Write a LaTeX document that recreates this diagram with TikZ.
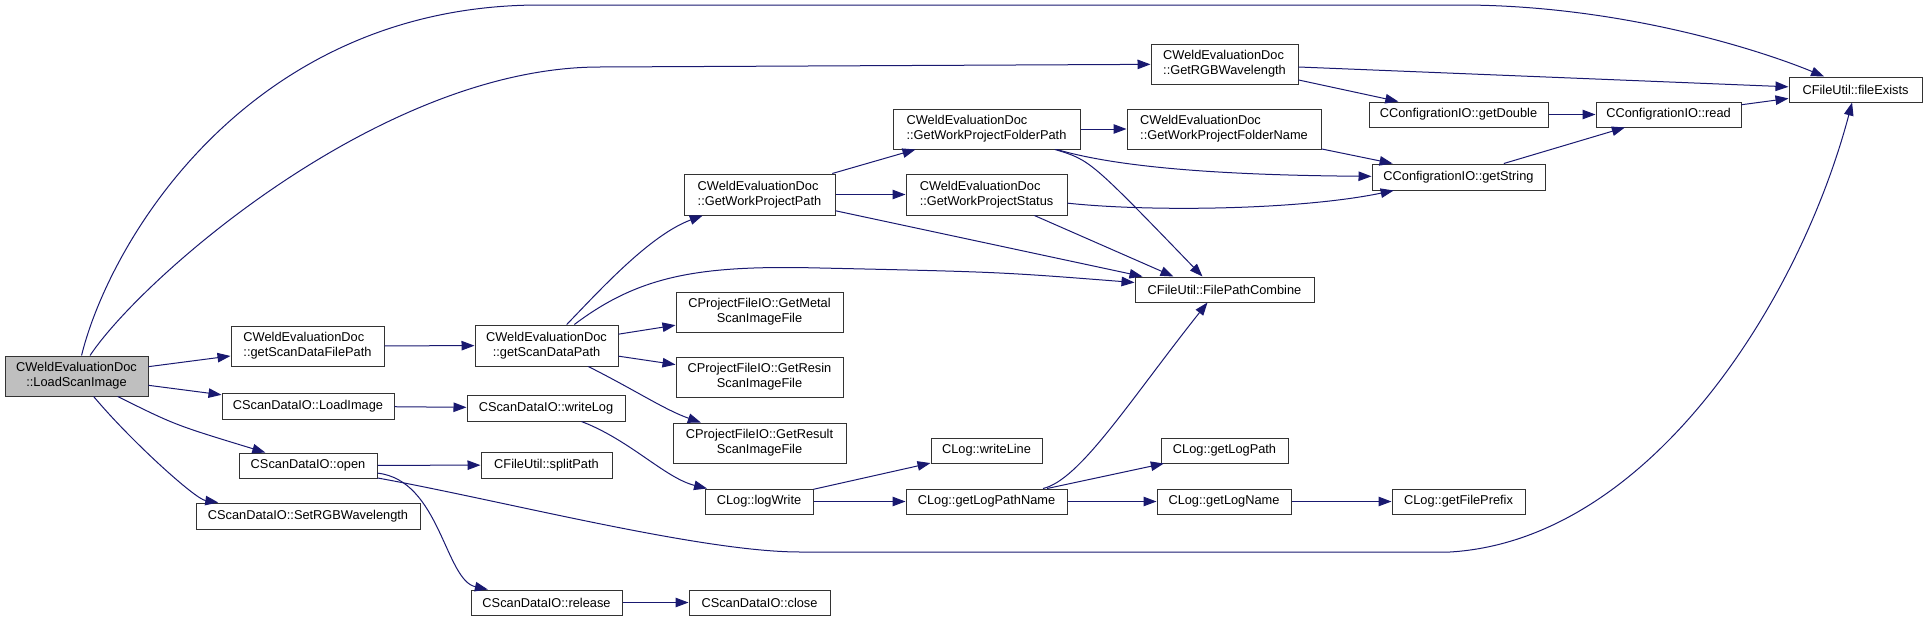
\documentclass[tikz,border=0pt]{standalone}
\usepackage{fontspec}
\setmainfont{Liberation Sans}
\usetikzlibrary{arrows.meta}
\definecolor{edgeblue}{HTML}{191970}
\definecolor{rootgray}{HTML}{BFBFBF}
\tikzset{
  fn/.style={draw=black!80, line width=1pt, fill=white, inner sep=2pt, align=center,
    font=\fontsize{12.8pt}{15pt}\selectfont},
  box/.style 2 args={fn, minimum width=#1pt, minimum height=#2pt},
  call/.style={edgeblue, line width=1pt, -{Triangle[length=13pt, width=9.5pt]}}
}

\begin{document}
\begin{tikzpicture}[x=1pt, y=-1pt]
  \useasboundingbox (0,0) rectangle (1927,621);

  % functions
  \node[box={143}{40}, fill=rootgray] (root) at (76.5,376) {CWeldEvaluationDoc\\::LoadScanImage};
  \node[box={153}{40}, align=left] (gsdfp) at (307.5,346) {CWeldEvaluationDoc\\::getScanDataFilePath};
  \node[box={172}{26}] (loadimg) at (308,406) {CScanDataIO::LoadImage};
  \node[box={138}{25}] (open) at (308,465.5) {CScanDataIO::open};
  \node[box={224}{26}] (setrgb) at (308,516) {CScanDataIO::SetRGBWavelength};
  \node[box={143}{41}] (gsdp) at (546.5,345.5) {CWeldEvaluationDoc\\::getScanDataPath};
  \node[box={158}{26}] (writelog) at (546,408) {CScanDataIO::writeLog};
  \node[box={131}{26}] (splitpath) at (546.5,465) {CFileUtil::splitPath};
  \node[box={151}{25}] (release) at (546.5,602.5) {CScanDataIO::release};
  \node[box={151}{41}, align=left] (gwpp) at (759.5,194.5) {CWeldEvaluationDoc\\::GetWorkProjectPath};
  \node[box={167}{40}] (metal) at (759.5,312) {CProjectFileIO::GetMetal\\ScanImageFile};
  \node[box={167}{40}] (resin) at (759.5,377) {CProjectFileIO::GetResin\\ScanImageFile};
  \node[box={173}{40}] (result) at (759.5,443) {CProjectFileIO::GetResult\\ScanImageFile};
  \node[box={108}{25}] (logwrite) at (759,501.5) {CLog::logWrite};
  \node[box={141}{25}] (close) at (759.5,602.5) {CScanDataIO::close};
  \node[box={187}{40}, align=left] (gwpfp) at (986.5,129) {CWeldEvaluationDoc\\::GetWorkProjectFolderPath};
  \node[box={161}{41}, align=left] (gwps) at (986.5,194.5) {CWeldEvaluationDoc\\::GetWorkProjectStatus};
  \node[box={111}{25}] (writeline) at (986.5,450.5) {CLog::writeLine};
  \node[box={161}{25}] (glpn) at (986.5,501.5) {CLog::getLogPathName};
  \node[box={147}{40}, align=left] (getrgb) at (1224.5,64) {CWeldEvaluationDoc\\::GetRGBWavelength};
  \node[box={194}{40}, align=left] (gwpfn) at (1224,129) {CWeldEvaluationDoc\\::GetWorkProjectFolderName};
  \node[box={179}{25}] (fpc) at (1224.5,289.5) {CFileUtil::FilePathCombine};
  \node[box={127}{25}] (getlogpath) at (1224.5,450.5) {CLog::getLogPath};
  \node[box={134}{25}] (getlogname) at (1224,501.5) {CLog::getLogName};
  \node[box={179}{25}] (getdouble) at (1458.5,114.5) {CConfigrationIO::getDouble};
  \node[box={173}{26}] (getstring) at (1458.5,177) {CConfigrationIO::getString};
  \node[box={133}{25}] (prefix) at (1458.5,501.5) {CLog::getFilePrefix};
  \node[box={145}{25}] (read) at (1668.5,114.5) {CConfigrationIO::read};
  \node[box={133}{25}] (fileexists) at (1855.5,89.5) {CFileUtil::fileExists};

  % calls from LoadScanImage
  \draw[call] (root) .. controls (110,240) and (250,5) .. (540,5) -- (1460,5)
    .. controls (1620,5) and (1760,50) .. (fileexists);
  \draw[call] (root) .. controls (140,280) and (380,67) .. (600,67) -- (getrgb);
  \draw[call] (root) -- (gsdfp);
  \draw[call] (root) -- (loadimg);
  \draw[call] (root) .. controls (175,425) .. (open);
  \draw[call] (root) .. controls (130,440) and (195,499) .. (setrgb);

  % second level
  \draw[call] (gsdfp) -- (gsdp);
  \draw[call] (loadimg) -- (writelog);
  \draw[call] (open) -- (splitpath);
  \draw[call] (open) .. controls (440,480) and (445,580) .. (release);
  \draw[call] (open) .. controls (500,500) and (700,552) .. (800,552) -- (1450,552)
    .. controls (1650,540) and (1800,300) .. (fileexists);
  \draw[call] (release) -- (close);

  % getScanDataPath
  \draw[call] (gsdp) .. controls (600,290) and (650,235) .. (gwpp);
  \draw[call] (gsdp) .. controls (640,275) and (700,265) .. (820,268)
    .. controls (1000,272) .. (fpc);
  \draw[call] (gsdp) -- (metal);
  \draw[call] (gsdp) -- (resin);
  \draw[call] (gsdp) .. controls (635,390) and (665,410) .. (result);
  \draw[call] (writelog) .. controls (630,440) and (665,478) .. (logwrite);

  % GetWorkProjectPath
  \draw[call] (gwpp) -- (gwpfp);
  \draw[call] (gwpp) -- (gwps);
  \draw[call] (gwpp) -- ([xshift=8pt]fpc.north west);
  \draw[call] (gwpfp) -- (gwpfn);
  \draw[call] (gwpfp) .. controls (1110,165) and (1200,175) .. (getstring);
  \draw[call] (gwpfp) .. controls (1090,160) .. ([xshift=68pt]fpc.north west);
  \draw[call] (gwps) .. controls (1150,212) and (1300,210) .. (getstring);
  \draw[call] (gwps) -- ([xshift=39pt]fpc.north west);
  \draw[call] (gwpfn) -- (getstring);

  % configuration
  \draw[call] (getrgb) -- (fileexists);
  \draw[call] (getrgb) -- (getdouble);
  \draw[call] (getdouble) -- (read);
  \draw[call] (getstring) -- (read);
  \draw[call] (read) -- (fileexists);

  % logging
  \draw[call] (logwrite) -- (writeline);
  \draw[call] (logwrite) -- (glpn);
  \draw[call] (glpn) .. controls (1080,480) and (1130,400) .. ([xshift=73pt]fpc.south west);
  \draw[call] (glpn) -- (getlogpath);
  \draw[call] (glpn) -- (getlogname);
  \draw[call] (getlogname) -- (prefix);
\end{tikzpicture}
\end{document}
